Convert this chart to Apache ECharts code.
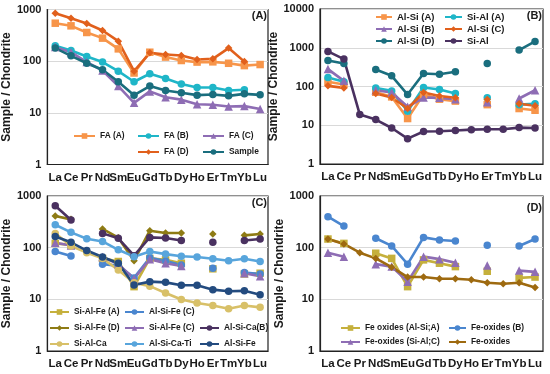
<!DOCTYPE html>
<html>
<head>
<meta charset="utf-8">
<script src="https://cdn.jsdelivr.net/npm/echarts@6/dist/echarts.min.js"></script>
<style>
html,body{margin:0;padding:0;background:#fff;}
#c{width:550px;height:374px;}
</style>
</head>
<body>
<div id="c"></div>
<script>
const categories = ['La','Ce','Pr','Nd','Sm','Eu','Gd','Tb','Dy','Ho','Er','Tm','Yb','Lu'];
const yTicksA = [1,10,100,1000];
const yTicksB = [1,10,100,1000,10000];

// Panel A
const faA = [543,483,359,279,173,59,149,120,103,96,97,91,82,86];
const faB = [198,161,123,96,64,40,57,46,36,31,31,27,28,null];
const faC = [187,149,96,66,33,15.6,26,20,18,14.7,14.3,13.3,13.5,11.9];
const faD = [849,679,536,393,244,64,145,135,129,108,111,179,98,null];
const sampleA = [179,127,91,68,40,22,33,27,24.4,22,22.6,21.3,23.3,22.3];

// Panel B
const alSiA = [132,113,null,71,54,14.9,62,47,42,null,34,null,27,24.4];
const siAlA = [171,132,null,92,77,23,94,84,66,null,51,null,34,36];
const alSiB = [281,140,null,80,70,30,52,51,47,null,39,null,49,80];
const alSiC = [104,92,null,66,52,27,70,57,51,null,46,null,36,32];
const alSiD = [470,393,null,275,189,62,217,208,240,null,393,null,870,1459];
const siAl = [804,509,18.9,14,8.5,4.5,6.9,7.0,7.3,7.7,7.9,7.9,8.7,8.5];

// Panel C
const siAlFeA = [121,113,null,62,54,17.6,62,58,50,null,39,null,31,32];
const alSiFeC = [84,69,null,48,45,26,64,55,46,null,40,null,33,31];
const siAlFeD = [410,353,null,230,156,56,213,192,192,null,184,null,173,184];
const siAlFeC = [125,110,null,66,48,25,60,50,44,null,null,null,32,28];
const alSiCaB = [650,343,null,189,152,70,158,154,138,null,127,null,138,147];
const siAlCa = [189,108,80,62,37,21,18,13.3,9.9,8.5,7.6,6.6,7.6,7.0];
const alSiCaTi = [278,198,149,132,91,67,84,75,68,66,61,56,61,54];
const alSiFe = [165,127,88,66,50,19,22,21.3,18.7,18.7,15.4,14.3,14.6,12.3];

// Panel D
const feOxA = [147,121,null,78,62,17.6,58,50,43,null,35,null,26,27];
const feOxB = [398,262,null,152,108,48,158,141,135,null,111,null,108,147];
const feOxC = [80,67,null,48,43,22,67,60,51,null,45,null,36,34];
const feOx = [147,118,80,62,42,27,27,25,25,24,21,20,21,17];

const FONT = '"Liberation Sans", Arial, sans-serif';
const TXT = '#1a1a1a';

const grids = [
  {left:44, top:9.5, width:224, height:155},
  {left:320, top:9, width:223, height:155},
  {left:44, top:196, width:224, height:155},
  {left:320, top:196, width:223, height:155}
];

const xAxes = grids.map((g,i)=>({
  type:'category', gridIndex:i, data:categories, boundaryGap:true,
  axisTick:{show:false},
  axisLine:{show:true, lineStyle:{color:'#222', width:1.2}},
  axisLabel:{interval:0, margin:7, fontSize:11.5, fontWeight:'bold', color:TXT, fontFamily:FONT}
}));

const yAxes = grids.map((g,i)=>({
  type:'log', logBase:10, gridIndex:i, min:1, max: i===1 ? 10000 : 1000,
  name:'Sample / Chondrite', nameLocation:'middle', nameGap: i%2===1 ? 34 : 28, nameRotate:90,
  nameTextStyle:{fontSize:12, fontWeight:'bold', color:TXT, fontFamily:FONT},
  axisTick:{show:false}, minorTick:{show:false},
  axisLine:{show:true, lineStyle:{color:'#222', width:1.2}},
  splitLine:{show:true, lineStyle:{color:'#d9d9d9', width:1}},
  axisLabel:{margin:6, fontSize:11, fontWeight:'bold', color:TXT, fontFamily:FONT,
    formatter: v => String(Math.round(v))}
}));

function mk(name, data, panel, color, symbol, size){
  return {
    type:'line', name, data, xAxisIndex:panel, yAxisIndex:panel,
    symbol, symbolSize:size||7, connectNulls:false, showAllSymbol:true,
    lineStyle:{color, width:2.6}, itemStyle:{color},
    emphasis:{disabled:true}, animation:false
  };
}

const C_LORANGE = '#F7954A', C_CYAN = '#1FB6C8', C_PURPLE = '#8E6DB4',
      C_RORANGE = '#E1601C', C_TEAL = '#1A6E7E', C_DPURPLE = '#4A3160',
      C_OLIVE = '#C5B03C', C_BLUE = '#4A86CF', C_DGOLD = '#8E7B14',
      C_KHAKI = '#D8C068', C_SKY = '#58A5DC', C_NAVY = '#234B7F', C_BROWN = '#9E6A10';

const series = [
  mk('FA (A)', faA, 0, C_LORANGE, 'rect', 7.5),
  mk('FA (B)', faB, 0, C_CYAN, 'circle', 7.5),
  mk('FA (C)', faC, 0, C_PURPLE, 'triangle', 8.5),
  mk('FA (D)', faD, 0, C_RORANGE, 'diamond', 7.5),
  mk('Sample', sampleA, 0, C_TEAL, 'circle', 7.5),

  mk('Al-Si (A)', alSiA, 1, C_LORANGE, 'rect', 7.5),
  mk('Si-Al (A)', siAlA, 1, C_CYAN, 'circle', 7.5),
  mk('Al-Si (B)', alSiB, 1, C_PURPLE, 'triangle', 8.5),
  mk('Al-Si (C)', alSiC, 1, C_RORANGE, 'diamond', 7.5),
  mk('Al-Si (D)', alSiD, 1, C_TEAL, 'circle', 7.5),
  mk('Si-Al', siAl, 1, C_DPURPLE, 'circle', 7.5),

  mk('Si-Al-Fe (A)', siAlFeA, 2, C_OLIVE, 'rect', 7.5),
  mk('Al-Si-Fe (C)', alSiFeC, 2, C_BLUE, 'circle', 7.5),
  mk('Si-Al-Fe (D)', siAlFeD, 2, C_DGOLD, 'diamond', 7.5),
  mk('Si-Al-Fe (C)', siAlFeC, 2, C_PURPLE, 'triangle', 8.5),
  mk('Al-Si-Ca(B)', alSiCaB, 2, C_DPURPLE, 'circle', 7.5),
  mk('Si-Al-Ca', siAlCa, 2, C_KHAKI, 'circle', 7.5),
  mk('Al-Si-Ca-Ti', alSiCaTi, 2, C_SKY, 'circle', 7.5),
  mk('Al-Si-Fe', alSiFe, 2, C_NAVY, 'circle', 7.5),

  mk('Fe oxides (Al-Si;A)', feOxA, 3, C_OLIVE, 'rect', 7.5),
  mk('Fe-oxides (B)', feOxB, 3, C_BLUE, 'circle', 7.5),
  mk('Fe-oxides (Si-Al;C)', feOxC, 3, C_PURPLE, 'triangle', 8.5),
  mk('Fe-oxides', feOx, 3, C_BROWN, 'diamond', 7.5)
];

function leg(name, left, cy, w, fs){
  fs = fs || 8.4;
  return {
    data:[name], left, top: cy-5, padding:0, itemWidth:w||20, itemHeight:7,
    selectedMode:false, itemGap:2,
    textStyle:{fontSize:fs, fontWeight:'bold', color:TXT, fontFamily:FONT}
  };
}

const legends = [
  leg('FA (A)', 73, 137, 21), leg('FA (B)', 137, 137, 21), leg('FA (C)', 202, 137, 21),
  leg('FA (D)', 137, 153, 21), leg('Sample', 202, 153, 21),

  leg('Al-Si (A)', 375, 17, 16, 9.5), leg('Si-Al (A)', 444, 17, 17, 9.5),
  leg('Al-Si (B)', 375, 29, 16, 9.5), leg('Al-Si (C)', 444, 29, 17, 9.5),
  leg('Al-Si (D)', 375, 41, 16, 9.5), leg('Si-Al', 444, 41, 17, 9.5),

  leg('Si-Al-Fe (A)', 49, 313, 19), leg('Al-Si-Fe (C)', 124, 313, 19),
  leg('Si-Al-Fe (D)', 49, 329, 19), leg('Si-Al-Fe (C)', 124, 329, 19), leg('Al-Si-Ca(B)', 199, 329, 19),
  leg('Si-Al-Ca', 49, 345, 19), leg('Al-Si-Ca-Ti', 124, 345, 19), leg('Al-Si-Fe', 199, 345, 19),

  leg('Fe oxides (Al-Si;A)', 340, 329, 19), leg('Fe-oxides (B)', 448, 329, 17),
  leg('Fe-oxides (Si-Al;C)', 340, 343, 19), leg('Fe-oxides', 448, 343, 17)
];

function panelLabel(t, right, top){
  return {type:'text', right, top, style:{text:t, fill:TXT, font:'bold 11px ' + FONT}};
}

const chart = echarts.init(document.getElementById('c'), null, {renderer:'canvas'});
chart.setOption({
  animation:false,
  backgroundColor:'#fff',
  grid: grids.map(g=>Object.assign({show:true, borderColor:'#222', borderWidth:1.2, backgroundColor:'transparent'}, g)),
  xAxis: xAxes,
  yAxis: yAxes,
  legend: legends,
  series,
  graphic:[
    panelLabel('(A)', 550-267, 10),
    panelLabel('(B)', 550-542, 10),
    panelLabel('(C)', 550-267, 197),
    panelLabel('(D)', 550-542, 202)
  ]
});
</script>
</body>
</html>
